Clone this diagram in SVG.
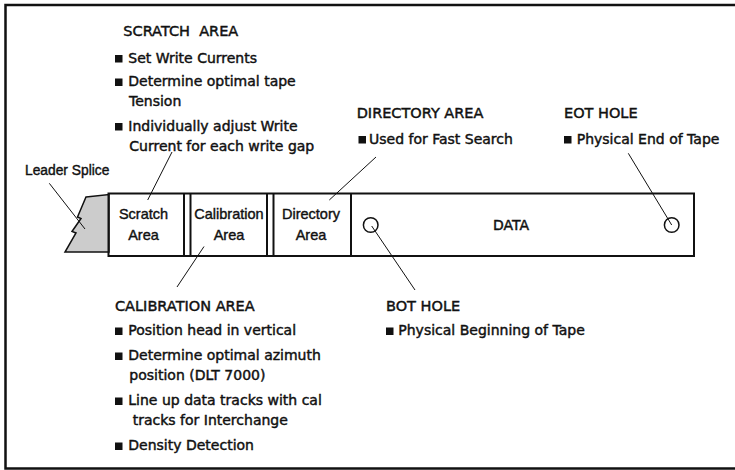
<svg xmlns="http://www.w3.org/2000/svg" width="735" height="470" viewBox="0 0 735 470">
<style>
.h{font-family:"DejaVu Sans",sans-serif;font-size:14.5px;fill:#111;stroke:#111;stroke-width:0.45}
.t{font-family:"DejaVu Sans",sans-serif;font-size:14px;fill:#111;stroke:#111;stroke-width:0.45}
.c{font-family:"Liberation Sans",Arial,sans-serif;font-size:14.5px;fill:#111;text-anchor:middle;stroke:#111;stroke-width:0.4}
.s{font-family:"Liberation Sans",Arial,sans-serif;font-size:13.8px;fill:#111;stroke:#111;stroke-width:0.4}
.b{fill:#111}
.ln{stroke:#111;stroke-width:1;fill:none}
.tp{stroke:#111;stroke-width:2;fill:none}
</style>
<defs>
<rect id="bul" width="7.5" height="7.5" class="b"/>
</defs>
<rect x="5.5" y="5" width="740" height="463.5" fill="#fff" stroke="#111" stroke-width="2.5"/>

<g id="tape">
<polygon points="86,197 109,194.5 109,252 65,252 76,233 72,231.5 81,218.5 77.5,217" fill="#cccccc" stroke="#111" stroke-width="1.5" stroke-linejoin="miter"/>
<rect x="108.5" y="193.5" width="585.5" height="62.5" fill="#fff" class="tp"/>
<line x1="184" y1="193.5" x2="184" y2="256" class="tp"/>
<line x1="190.5" y1="193.5" x2="190.5" y2="256" class="tp"/>
<line x1="267" y1="193.5" x2="267" y2="256" class="tp"/>
<line x1="273.5" y1="193.5" x2="273.5" y2="256" class="tp"/>
<line x1="351" y1="193.5" x2="351" y2="256" class="tp"/>
</g>
<g id="scratch-seg"><text class="c" x="143.5" y="218.5">Scratch</text><text class="c" x="143.5" y="239.5">Area</text></g>
<g id="cal-seg"><text class="c" x="229" y="218.5">Calibration</text><text class="c" x="229" y="239.5">Area</text></g>
<g id="dir-seg"><text class="c" x="311" y="218.5">Directory</text><text class="c" x="311" y="239.5">Area</text></g>
<g id="data-seg"><text class="t" x="511" y="229.5" text-anchor="middle">DATA</text></g>
<g id="bot-hole"><circle cx="370.7" cy="225" r="7.3" fill="#fff" stroke="#111" stroke-width="1.5"/></g>
<g id="eot-hole"><circle cx="671.7" cy="225" r="7.3" fill="#fff" stroke="#111" stroke-width="1.5"/></g>

<g id="connectors">
<line x1="49.3" y1="183.3" x2="85" y2="229" class="ln"/>
<line x1="172" y1="152" x2="147.7" y2="200" class="ln"/>
<line x1="376" y1="157" x2="329.3" y2="200" class="ln"/>
<line x1="204" y1="246.5" x2="177" y2="287" class="ln"/>
<line x1="371.7" y1="226" x2="415" y2="290" class="ln"/>
<line x1="628.3" y1="153.3" x2="671.7" y2="225" class="ln"/>
</g>

<g id="leader-splice"><text class="s" x="25" y="175">Leader Splice</text></g>

<g id="scratch-area">
<text class="h" x="123.3" y="36" style="white-space:pre">SCRATCH  AREA</text>
<use href="#bul" x="115" y="55"/><text class="t" x="128.3" y="62.5">Set Write Currents</text>
<use href="#bul" x="115" y="78.5"/><text class="t" x="128.3" y="86">Determine optimal tape</text>
<text class="t" x="129" y="106">Tension</text>
<use href="#bul" x="115" y="123"/><text class="t" x="128.3" y="130.7">Individually adjust Write</text>
<text class="t" x="129.3" y="150.7">Current for each write gap</text>
</g>

<g id="directory-area">
<text class="h" x="356.7" y="118.3">DIRECTORY AREA</text>
<use href="#bul" x="358.5" y="136"/><text class="t" x="369" y="143.5">Used for Fast Search</text>
</g>

<g id="eot-area">
<text class="h" x="564" y="118.3">EOT HOLE</text>
<use href="#bul" x="564" y="136"/><text class="t" x="576.7" y="143.5">Physical End of Tape</text>
</g>

<g id="calibration-area">
<text class="h" x="115" y="310.7">CALIBRATION AREA</text>
<use href="#bul" x="115" y="327.5"/><text class="t" x="128.3" y="335">Position head in vertical</text>
<use href="#bul" x="115" y="352.5"/><text class="t" x="128.3" y="360">Determine optimal azimuth</text>
<text class="t" x="129.3" y="380">position (DLT 7000)</text>
<use href="#bul" x="115" y="397.5"/><text class="t" x="128.3" y="405">Line up data tracks with cal</text>
<text class="t" x="132.7" y="425">tracks for Interchange</text>
<use href="#bul" x="115" y="442.5"/><text class="t" x="128.3" y="450">Density Detection</text>
</g>

<g id="bot-area">
<text class="h" x="386" y="310.7">BOT HOLE</text>
<use href="#bul" x="386" y="327.5"/><text class="t" x="398.3" y="335">Physical Beginning of Tape</text>
</g>
</svg>
